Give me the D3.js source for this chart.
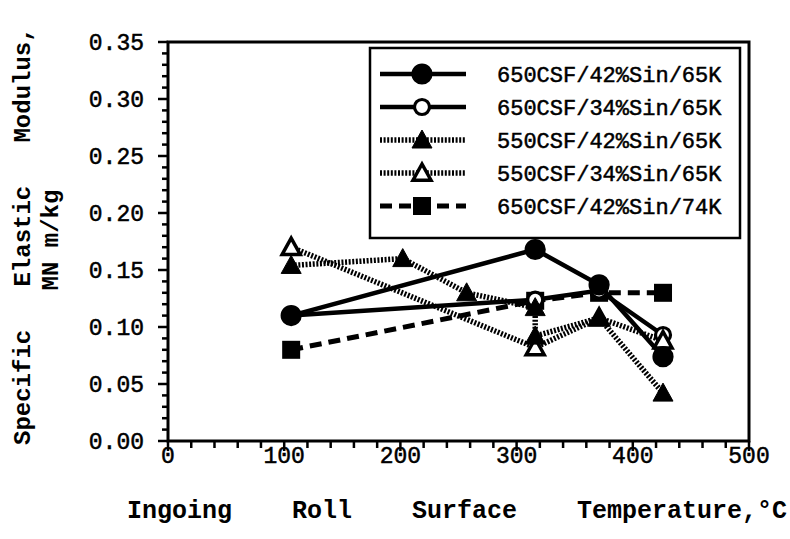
<!DOCTYPE html>
<html><head><meta charset="utf-8">
<script src="https://cdn.jsdelivr.net/npm/d3@7"></script>
<style>html,body{margin:0;padding:0;background:#fff}svg{display:block}</style>
</head><body>
<script>
// ---- data ----
const seriesNames = ["650CSF/42%Sin/65K","650CSF/34%Sin/65K","550CSF/42%Sin/65K","550CSF/34%Sin/65K","650CSF/42%Sin/74K"];
const s1x = [106, 316, 371, 426];
const s1y = [0.110, 0.168, 0.137, 0.074];
const s2x = [106, 316, 371, 426];
const s2y = [0.110, 0.124, 0.132, 0.093];
const s3x = [106, 202, 257, 316, 316, 371, 426];
const s3y = [0.154, 0.160, 0.130, 0.117, 0.092, 0.108, 0.042];
const s4x = [106, 316, 371, 426];
const s4y = [0.170, 0.082, 0.108, 0.088];
const s5x = [106, 316, 371, 426];
const s5y = [0.080, 0.123, 0.130, 0.130];
const xTicks = [0, 100, 200, 300, 400, 500];
const yTicks = [0, 0.05, 0.10, 0.15, 0.20, 0.25, 0.30, 0.35];
const xTitle = "Ingoing    Roll    Surface    Temperature,°C";
const yTitle = "Specific   Elastic   Modulus,";
const yTitle2 = "MN m/kg";

const W = 790, H = 539;
const L = 168, R = 749, T = 42, B = 441;
const svg = d3.select("body").append("svg").attr("width", W).attr("height", H);
const x = d3.scaleLinear().domain([0, 500]).range([L, R]);
const y = d3.scaleLinear().domain([0, 0.35]).range([B, T]);
const mono = "'Liberation Mono','Courier New',monospace";

const styles = [
  {dash: null, w: 4.5, marker: "circle", fill: "#000"},
  {dash: null, w: 4.5, marker: "circle", fill: "#fff"},
  {dash: "2,1.6", w: 5.5, marker: "triangle", fill: "#000"},
  {dash: "2,1.6", w: 5.5, marker: "triangle", fill: "#fff"},
  {dash: "12,7", w: 5, marker: "square", fill: "#000"}
];
const data = [
  s1x.map((v,i)=>[v,s1y[i]]),
  s2x.map((v,i)=>[v,s2y[i]]),
  s3x.map((v,i)=>[v,s3y[i]]),
  s4x.map((v,i)=>[v,s4y[i]]),
  s5x.map((v,i)=>[v,s5y[i]])
];

// frame
svg.append("rect").attr("x", L).attr("y", T).attr("width", R-L).attr("height", B-T)
  .attr("fill","none").attr("stroke","#000").attr("stroke-width",3);

// y ticks
const yMinor = d3.range(0, 0.3501, 0.01);
svg.append("g").selectAll("line").data(yMinor).join("line")
  .attr("x1", L).attr("x2", (d,i)=> i%5===0 ? L-10 : L-6)
  .attr("y1", d=>y(d)).attr("y2", d=>y(d))
  .attr("stroke","#000").attr("stroke-width",2.5);
svg.append("g").selectAll("text").data(yTicks).join("text")
  .attr("x", L-24).attr("y", d=>y(d)).attr("dy","0.35em")
  .attr("text-anchor","end").attr("font-family",mono).attr("font-size",23)
  .attr("stroke","#000").attr("stroke-width",0.5)
  .text(d=>d3.format(".2f")(d));

// x ticks
const xMinor = d3.range(0, 501, 20);
svg.append("g").selectAll("line").data(xMinor).join("line")
  .attr("x1", d=>x(d)).attr("x2", d=>x(d))
  .attr("y1", B).attr("y2", d=> d%100===0 ? B+10 : B+7)
  .attr("stroke","#000").attr("stroke-width",2.5);
svg.append("g").selectAll("text").data(xTicks).join("text")
  .attr("x", d=>x(d)).attr("y", 463)
  .attr("text-anchor","middle").attr("font-family",mono).attr("font-size",23)
  .attr("stroke","#000").attr("stroke-width",0.5)
  .text(d=>d);

// titles
svg.append("text").attr("x",127).attr("y",518)
  .style("white-space","pre")
  .attr("font-family",mono).attr("font-size",25).attr("font-weight","bold")
  .text(xTitle);
svg.append("text").attr("transform","translate(30,445) rotate(-90)")
  .style("white-space","pre")
  .attr("font-family",mono).attr("font-size",24).attr("font-weight","bold")
  .text(yTitle);
svg.append("text").attr("transform","translate(58,240) rotate(-90)")
  .attr("text-anchor","middle").attr("font-family",mono).attr("font-size",24).attr("font-weight","bold")
  .text(yTitle2);

function drawMarker(g, cx, cy, st) {
  if (st.marker === "circle") {
    g.append("circle").attr("cx",cx).attr("cy",cy).attr("r", st.fill==="#000"?9:7.5)
      .attr("fill",st.fill).attr("stroke","#000").attr("stroke-width",3.2);
  } else if (st.marker === "triangle") {
    const s = st.fill==="#000" ? 10 : 9;
    g.append("path").attr("d", `M${cx},${cy-s} L${cx+s},${cy+s*0.8} L${cx-s},${cy+s*0.8} Z`)
      .attr("fill",st.fill).attr("stroke","#000").attr("stroke-width",st.fill==="#000"?1:3.5);
  } else {
    g.append("rect").attr("x",cx-9).attr("y",cy-9).attr("width",18).attr("height",18).attr("fill","#000");
  }
}

const line = d3.line().x(d=>x(d[0])).y(d=>y(d[1]));
const order = [4, 1, 3, 2, 0];
const plot = svg.append("g");
order.forEach(k => {
  const st = styles[k];
  plot.append("path").datum(data[k]).attr("d", line)
    .attr("fill","none").attr("stroke","#000").attr("stroke-width",st.w)
    .attr("stroke-dasharray", st.dash);
});
order.forEach(k => {
  data[k].forEach(d => drawMarker(plot, x(d[0]), y(d[1]), styles[k]));
});

// legend
const lg = svg.append("g");
lg.append("rect").attr("x",370).attr("y",48).attr("width",370).attr("height",190)
  .attr("fill","#fff").attr("stroke","#000").attr("stroke-width",2.5);
const rowY = [74, 107, 140, 173, 206];
seriesNames.forEach((name, i) => {
  const st = styles[i];
  lg.append("line").attr("x1",380).attr("x2",466).attr("y1",rowY[i]).attr("y2",rowY[i])
    .attr("stroke","#000").attr("stroke-width",st.w).attr("stroke-dasharray",st.dash);
  drawMarker(lg, 422, rowY[i], st);
  lg.append("text").attr("x",497).attr("y",rowY[i]).attr("dy","0.35em")
    .attr("font-family",mono).attr("font-size",22)
    .attr("stroke","#000").attr("stroke-width",0.5).text(name);
});
</script>
</body></html>
